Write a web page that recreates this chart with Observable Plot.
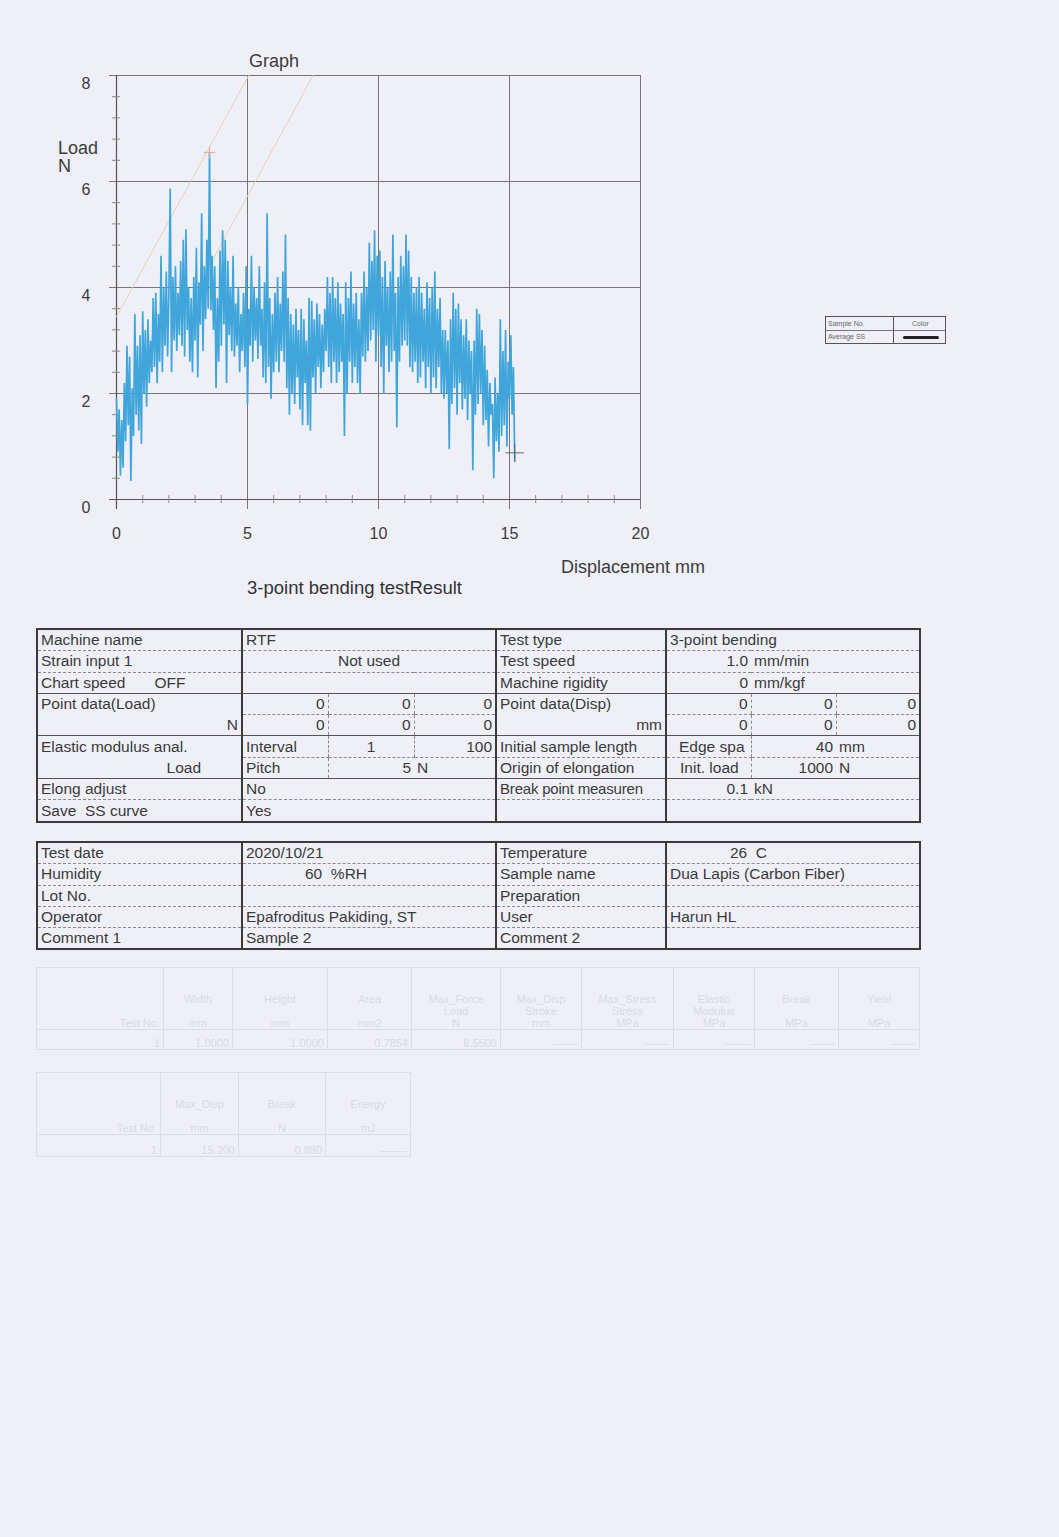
<!DOCTYPE html>
<html>
<head>
<meta charset="utf-8">
<script src="https://cdn.jsdelivr.net/npm/d3@7"></script>
<script src="https://cdn.jsdelivr.net/npm/@observablehq/plot@0.6"></script>
<style>
  html, body { margin: 0; padding: 0; overflow: hidden; }
  body { width: 1059px; height: 1537px; background: #eff0f7; position: relative;
         font-family: "Liberation Sans", Arial, sans-serif; color: #3a3a3a; }
  .abs { position: absolute; white-space: nowrap; }
  .ct { font-size: 18px; line-height: 18px; color: #3c3c3c; }
  #chart { position: absolute; left: 0; top: 0; }
  table.rep { position: absolute; border-collapse: collapse; table-layout: fixed;
              border: 2px solid #3a3a3a; }
  table.rep td { font-size: 15.5px; height: 20.3px; line-height: 20px; padding: 0 3px;
                 border-bottom: 1px dashed #8a8a8a; white-space: nowrap; overflow: hidden;
                 color: #3a3a3a; }
  table.rep td.vL { border-left: 2px solid #3a3a3a; }
  table.rep td.vd { border-left: 1px dashed #8a8a8a; }
  table.rep tr.sb td { border-bottom: 1px solid #555; }
  table.rep td.nb { border-bottom: none; }
  .r { text-align: right; }
  .c { text-align: center; }
  table.faint { position: absolute; border-collapse: collapse; table-layout: fixed;
                border: 1px solid #d6d9e5; }
  table.faint td { border: 1px solid #dadde8; font-size: 11px; color: #d6d9e5; padding: 0 3px;
                   white-space: nowrap; overflow: hidden; vertical-align: bottom; }
  #legend { position: absolute; left: 825px; top: 316px; width: 119px; height: 26px;
            border: 1px solid #555; font-size: 7px; color: #666; }
  #legend div { position: absolute; }
</style>
</head>
<body>
<div class="abs ct" style="left:249px; top:52px;">Graph</div>
<div class="abs ct" style="left:58px; top:139px;">Load</div>
<div class="abs ct" style="left:58px; top:157px;">N</div>
<div class="abs ct" style="left:561px; top:558px;">Displacement mm</div>
<div class="abs ct" style="left:247px; top:579px; font-size:18.5px; color:#333;">3-point bending testResult</div>

<div id="legend">
  <div style="left:0; top:0; width:67px; height:13px; border-right:1px solid #555; border-bottom:1px solid #777;"></div>
  <div style="left:68px; top:0; width:51px; height:13px; border-bottom:1px solid #777;"></div>
  <div style="left:0; top:13px; width:67px; height:13px; border-right:1px solid #555;"></div>
  <div style="left:2px; top:3px;">Sample No.</div>
  <div style="left:86px; top:3px;">Color</div>
  <div style="left:2px; top:16px;">Average SS</div>
  <div style="left:77px; top:19px; width:36px; height:3px; background:#222; border-radius:2px;"></div>
</div>

<div id="chart"></div>

<table class="rep" style="left:36px; top:628px; width:883px;">
  <colgroup><col style="width:205px"><col style="width:86px"><col style="width:86px"><col style="width:82px"><col style="width:170px"><col style="width:85px"><col style="width:85px"><col style="width:84px"></colgroup>
  <tr><td>Machine name</td><td class="vL" colspan="3">RTF</td><td class="vL">Test type</td><td class="vL" colspan="3">3-point bending</td></tr>
  <tr><td>Strain input 1</td><td class="vL c" colspan="3">Not used</td><td class="vL">Test speed</td><td class="vL r">1.0</td><td colspan="2">mm/min</td></tr>
  <tr class="sb"><td>Chart speed<span style="margin-left:29px">OFF</span></td><td class="vL" colspan="3"></td><td class="vL">Machine rigidity</td><td class="vL r">0</td><td colspan="2">mm/kgf</td></tr>
  <tr><td class="nb">Point data(Load)</td><td class="vL r">0</td><td class="vd r">0</td><td class="vd r">0</td><td class="vL nb">Point data(Disp)</td><td class="vL r">0</td><td class="vd r">0</td><td class="vd r">0</td></tr>
  <tr class="sb"><td class="r">N</td><td class="vL r">0</td><td class="vd r">0</td><td class="vd r">0</td><td class="vL r">mm</td><td class="vL r">0</td><td class="vd r">0</td><td class="vd r">0</td></tr>
  <tr><td class="nb">Elastic modulus anal.</td><td class="vL">Interval</td><td class="vd c">1</td><td class="vd r">100</td><td class="vL">Initial sample length</td><td class="vL" style="padding-left:12px">Edge spa</td><td class="vd r">40</td><td>mm</td></tr>
  <tr class="sb"><td class="r" style="padding-right:40px">Load</td><td class="vL">Pitch</td><td class="vd r">5</td><td>N</td><td class="vL">Origin of elongation</td><td class="vL" style="padding-left:13px">Init. load</td><td class="vd r">1000</td><td>N</td></tr>
  <tr><td>Elong adjust</td><td class="vL" colspan="3">No</td><td class="vL" style="font-size:15px; letter-spacing:-0.2px">Break point measuren</td><td class="vL r">0.1</td><td colspan="2">kN</td></tr>
  <tr><td>Save&nbsp;&nbsp;SS curve</td><td class="vL" colspan="3">Yes</td><td class="vL"></td><td class="vL" colspan="3"></td></tr>
</table>

<table class="rep" style="left:36px; top:841px; width:883px;">
  <colgroup><col style="width:205px"><col style="width:254px"><col style="width:170px"><col style="width:254px"></colgroup>
  <tr><td>Test date</td><td class="vL">2020/10/21</td><td class="vL">Temperature</td><td class="vL" style="padding-left:63px">26&nbsp;&nbsp;C</td></tr>
  <tr><td>Humidity</td><td class="vL" style="padding-left:62px">60&nbsp;&nbsp;%RH</td><td class="vL">Sample name</td><td class="vL">Dua Lapis (Carbon Fiber)</td></tr>
  <tr><td>Lot No.</td><td class="vL"></td><td class="vL">Preparation</td><td class="vL"></td></tr>
  <tr><td>Operator</td><td class="vL">Epafroditus Pakiding, ST</td><td class="vL">User</td><td class="vL">Harun HL</td></tr>
  <tr><td>Comment 1</td><td class="vL">Sample 2</td><td class="vL">Comment 2</td><td class="vL"></td></tr>
</table>

<table class="faint" style="left:36px; top:967px; width:883px;">
  <colgroup><col style="width:127px"><col style="width:69px"><col style="width:95px"><col style="width:84px"><col style="width:89px"><col style="width:81px"><col style="width:92px"><col style="width:81px"><col style="width:84px"><col style="width:81px"></colgroup>
  <tr style="height:62px"><td class="r">Test No.</td><td class="c">Width<br><br>mm</td><td class="c">Height<br><br>mm</td><td class="c">Area<br><br>mm2</td><td class="c">Max_Force<br>Load<br>N</td><td class="c">Max_Disp<br>Stroke<br>mm</td><td class="c">Max_Stress<br>Stress<br>MPa</td><td class="c">Elastic<br>Modulus<br>MPa</td><td class="c">Break<br><br>MPa</td><td class="c">Yield<br><br>MPa</td></tr>
  <tr style="height:20px"><td class="r">1</td><td class="r">1.0000</td><td class="r">1.0000</td><td class="r">0.7854</td><td class="r">6.5500</td><td class="r">-------</td><td class="r">-------</td><td class="r">-------</td><td class="r">-------</td><td class="r">-------</td></tr>
</table>

<table class="faint" style="left:36px; top:1072px; width:374px;">
  <colgroup><col style="width:124px"><col style="width:78px"><col style="width:87px"><col style="width:85px"></colgroup>
  <tr style="height:62px"><td class="r">Test No.</td><td class="c">Max_Disp<br><br>mm</td><td class="c">Break<br><br>N</td><td class="c">Energy<br><br>mJ</td></tr>
  <tr style="height:22px"><td class="r">1</td><td class="r">15.200</td><td class="r">0.880</td><td class="r">-------</td></tr>
</table>

<script>
// ---- data ----
const dispStep = 0.05; // mm between recorded samples
const load = [
  1.9, 0.9, 1.7, 0.45, 1.5, 0.6, 2.2, 1.1, 2.9, 1.4,
  2.7, 0.35, 2.1, 1.2, 3.5, 1.6, 2.9, 1.3, 3.1, 1.05,
  3.55, 2.0, 3.2, 1.75, 3.4, 2.2, 3.0, 2.4, 3.8, 2.5,
  3.9, 2.2, 3.5, 2.6, 4.6, 2.4, 4.0, 2.9, 4.3, 2.7,
  3.9, 5.87, 2.4, 4.2, 3.0, 4.4, 2.8, 3.9, 3.1, 4.5,
  2.9, 4.9, 2.7, 5.1, 3.2, 4.0, 2.6, 3.8, 2.4, 4.2,
  3.0, 4.75, 2.3, 4.1, 3.3, 5.4, 2.8, 4.4, 3.4, 4.9,
  3.6, 6.55, 3.57, 4.6, 3.2, 4.4, 2.1, 3.8, 2.6, 4.7,
  2.9, 5.08, 3.3, 4.9, 2.2, 4.5, 3.1, 4.0, 2.8, 4.6,
  2.7, 3.7, 2.9, 4.0, 2.4, 3.5, 2.8, 3.9, 2.5, 4.4,
  1.8, 3.6, 2.9, 4.6, 2.6, 4.0, 3.0, 3.8, 2.65, 4.4,
  2.9, 3.6, 2.3, 4.1, 2.2, 5.4, 2.5, 3.8, 1.9, 3.5,
  2.4, 3.9, 2.6, 4.2, 2.4, 3.7, 2.8, 4.3, 2.6, 5.0,
  2.1, 3.8, 1.6, 3.5, 2.0, 3.3, 1.8, 3.6, 2.3, 3.2,
  1.7, 3.6, 1.4, 3.4, 2.2, 3.0, 1.4, 3.8, 1.3, 3.75,
  2.3, 3.4, 2.0, 3.7, 2.5, 3.5, 2.1, 3.3, 2.4, 3.6,
  2.8, 4.2, 2.5, 3.9, 2.2, 4.2, 2.6, 3.8, 2.2, 4.1,
  2.4, 3.7, 2.6, 3.5, 1.2, 4.1, 2.0, 3.8, 2.6, 4.3,
  2.2, 3.7, 2.5, 3.9, 2.2, 3.4, 2.0, 3.9, 2.7, 4.3,
  2.6, 4.0, 2.8, 4.85, 3.0, 4.5, 3.2, 5.08, 2.6, 4.6,
  3.1, 4.7, 2.5, 4.2, 2.0, 4.5, 2.9, 4.0, 2.4, 4.3,
  2.6, 5.0, 2.8, 3.9, 1.36, 4.2, 2.6, 4.6, 2.9, 4.4,
  3.0, 5.0, 2.9, 4.7, 2.5, 4.2, 2.4, 3.9, 2.6, 4.0,
  2.2, 4.2, 2.3, 3.9, 2.6, 3.6, 2.1, 4.1, 2.5, 3.8,
  2.0, 4.0, 2.3, 4.3, 2.1, 3.6, 2.5, 3.8, 2.0, 3.2,
  1.9, 3.2, 2.0, 3.0, 0.95, 3.4, 1.8, 3.9, 2.1, 3.6,
  1.6, 3.7, 2.2, 3.4, 1.7, 3.1, 1.9, 3.4, 1.5, 3.0,
  2.0, 2.8, 0.55, 3.0, 1.6, 3.6, 1.8, 3.5, 2.0, 3.2,
  1.4, 2.9, 1.5, 2.45, 1.0, 2.2, 1.6, 1.8, 0.4, 2.3,
  1.1, 2.0, 0.9, 3.4, 1.2, 2.8, 1.4, 3.2, 1.0, 2.6,
  1.9, 3.1, 1.6, 2.5, 0.73
];
// elastic-modulus fit lines (faint), as [disp, load] endpoints
const modulusLine1 = [[0, 3.45], [5.05, 8]];
const modulusLine2 = [[3.65, 4.5], [7.5, 8]];
const breakPoint = [[15.2, 0.88]];
const peakPoint = [[3.55, 6.55]];
const xMajorTicks = [0, 5, 10, 15, 20];
const yMajorTicks = [0, 2, 4, 6, 8];
const xMinorTicks = d3.range(1, 20).filter(v => v % 5 !== 0);
const yMinorTicks = d3.range(1, 20).map(i => +(i * 0.4).toFixed(1)).filter(v => v % 2 !== 0);

const series = load.map((v, i) => ({disp: +(i * dispStep).toFixed(2), load: v}));

const grid = "#767676";
const chart = Plot.plot({
  width: 1059,
  height: 610,
  marginLeft: 116,
  marginRight: 419,
  marginTop: 75,
  marginBottom: 111,
  style: {background: "transparent", fontFamily: "Liberation Sans, Arial, sans-serif", fontSize: "16px", color: "#3c3c3c"},
  x: {domain: [0, 20]},
  y: {domain: [0, 8]},
  marks: [
    Plot.ruleY([2, 4, 6, 8], {stroke: grid, strokeWidth: 1, insetLeft: -7}),
    Plot.ruleX([5, 10, 15, 20], {stroke: grid, strokeWidth: 1, insetBottom: -10}),
    Plot.ruleX([0], {stroke: "#555", strokeWidth: 1.2, insetBottom: -10}),
    Plot.ruleY([0], {stroke: "#555", strokeWidth: 1.2, insetLeft: -7}),
    Plot.ruleY(yMinorTicks, {x1: 0, x2: 0, insetLeft: -4, insetRight: -4, stroke: "#888"}),
    Plot.ruleX(xMinorTicks, {y1: 0, y2: 0, insetTop: -4, insetBottom: -4, stroke: "#888"}),
    Plot.line(modulusLine1, {x: d => d[0], y: d => d[1], stroke: "#e6cfb2", strokeWidth: 1}),
    Plot.line(modulusLine2, {x: d => d[0], y: d => d[1], stroke: "#e6cfb2", strokeWidth: 1}),
    Plot.line(series, {x: "disp", y: "load", stroke: "#3fa5da", strokeWidth: 1.7, strokeLinejoin: "miter"}),
    Plot.dot(peakPoint, {x: d => d[0], y: d => d[1], symbol: "plus", r: 4, stroke: "#e2a98f", strokeWidth: 1}),
    Plot.dot(breakPoint, {x: d => d[0], y: d => d[1], symbol: "plus", r: 6, stroke: "#666", strokeWidth: 1}),
    Plot.axisY(yMajorTicks, {tickSize: 0, tickPadding: 26, dy: 8, label: null, tickFormat: d => String(d), fill: "#3c3c3c", fontSize: 16}),
    Plot.axisX(xMajorTicks, {tickSize: 0, tickPadding: 28, label: null, tickFormat: d => String(d), fill: "#3c3c3c", fontSize: 16})
  ]
});
document.getElementById("chart").appendChild(chart);
</script>
</body>
</html>
